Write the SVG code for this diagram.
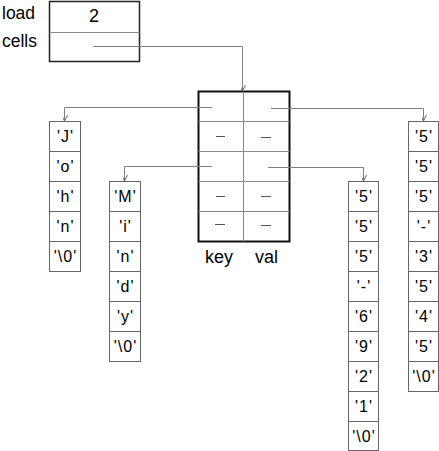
<svg xmlns="http://www.w3.org/2000/svg" width="439" height="451" viewBox="0 0 439 451">
<style>
text{font-family:"Liberation Sans",Arial,sans-serif;fill:#000}
.lbl{font-size:17.5px}
.c{font-size:16px;text-anchor:middle;letter-spacing:1px}
.cell{fill:#fff;stroke:#666;stroke-width:1}
.wire{fill:none;stroke:#808080;stroke-width:1}
.nul{stroke:#555;stroke-width:1}
.grid{stroke:#888;stroke-width:1}
</style>
<defs>
<marker id="arr" viewBox="-6 -10 12 12" markerWidth="12" markerHeight="12" refX="0" refY="0" orient="auto" markerUnits="userSpaceOnUse">
<path d="M-4,-8 L0,0 L4,-8" transform="rotate(-90)" fill="none" stroke="#666" stroke-width="1"/>
</marker>
</defs>
<g id="root">
<text class="lbl" x="2" y="19">load</text>
<text class="lbl" x="2" y="47">cells</text>
<rect x="49.5" y="1.5" width="90" height="60" fill="#fff" stroke="#222" stroke-width="1.5"/>
<line x1="49.5" y1="32.5" x2="139.5" y2="32.5" class="grid"/>
<text x="94" y="22" style="font-size:18px;text-anchor:middle">2</text>
</g>
<g id="table">
<rect x="198.5" y="91.5" width="91" height="150" fill="#fff" stroke="#111" stroke-width="2"/>
<line x1="198.5" y1="121.5" x2="289.5" y2="121.5" class="grid"/>
<line x1="198.5" y1="151.5" x2="289.5" y2="151.5" class="grid"/>
<line x1="198.5" y1="181.5" x2="289.5" y2="181.5" class="grid"/>
<line x1="198.5" y1="211.5" x2="289.5" y2="211.5" class="grid"/>
<line x1="243.5" y1="91.5" x2="243.5" y2="241.5" class="grid"/>
<line x1="216" y1="136.5" x2="225" y2="136.5" class="nul"/>
<line x1="261" y1="137.5" x2="271" y2="137.5" class="nul"/>
<line x1="216" y1="196.5" x2="225" y2="196.5" class="nul"/>
<line x1="261" y1="196.5" x2="271" y2="196.5" class="nul"/>
<line x1="215" y1="224.5" x2="225" y2="224.5" class="nul"/>
<line x1="261" y1="225.5" x2="271" y2="225.5" class="nul"/>
<text class="lbl" x="205" y="263" style="font-size:18px">key</text>
<text class="lbl" x="255" y="263" style="font-size:18px">val</text>
</g>
<g id="connectors">
<path class="wire" d="M93,46.5 H242.5 V91" marker-end="url(#arr)"/>
<path class="wire" d="M212,107.5 H64.5 V121" marker-end="url(#arr)"/>
<path class="wire" d="M271,108.5 H423.5 V121" marker-end="url(#arr)"/>
<path class="wire" d="M212,166.5 H124.5 V181" marker-end="url(#arr)"/>
<path class="wire" d="M268,167.5 H363.5 V181" marker-end="url(#arr)"/>
</g>
<g id="col-john">
<rect class="cell" x="49.5" y="121.5" width="31" height="30"/><text class="c" x="65.5" y="142">'J'</text>
<rect class="cell" x="49.5" y="151.5" width="31" height="30"/><text class="c" x="65.5" y="172">'o'</text>
<rect class="cell" x="49.5" y="181.5" width="31" height="30"/><text class="c" x="65.5" y="202">'h'</text>
<rect class="cell" x="49.5" y="211.5" width="31" height="30"/><text class="c" x="65.5" y="232">'n'</text>
<rect class="cell" x="49.5" y="241.5" width="31" height="30"/><text class="c" x="65.5" y="262">'\0'</text>
</g>
<g id="col-mindy">
<rect class="cell" x="109.5" y="181.5" width="31" height="30"/><text class="c" x="125.5" y="202">'M'</text>
<rect class="cell" x="109.5" y="211.5" width="31" height="30"/><text class="c" x="125.5" y="232">'i'</text>
<rect class="cell" x="109.5" y="241.5" width="31" height="30"/><text class="c" x="125.5" y="262">'n'</text>
<rect class="cell" x="109.5" y="271.5" width="31" height="30"/><text class="c" x="125.5" y="292">'d'</text>
<rect class="cell" x="109.5" y="301.5" width="31" height="30"/><text class="c" x="125.5" y="322">'y'</text>
<rect class="cell" x="109.5" y="331.5" width="31" height="30"/><text class="c" x="125.5" y="352">'\0'</text>
</g>
<g id="col-5556921">
<rect class="cell" x="348.5" y="181.5" width="30" height="30"/><text class="c" x="364" y="202">'5'</text>
<rect class="cell" x="348.5" y="211.5" width="30" height="30"/><text class="c" x="364" y="232">'5'</text>
<rect class="cell" x="348.5" y="241.5" width="30" height="30"/><text class="c" x="364" y="262">'5'</text>
<rect class="cell" x="348.5" y="271.5" width="30" height="30"/><text class="c" x="364" y="292">'-'</text>
<rect class="cell" x="348.5" y="301.5" width="30" height="30"/><text class="c" x="364" y="322">'6'</text>
<rect class="cell" x="348.5" y="331.5" width="30" height="30"/><text class="c" x="364" y="352">'9'</text>
<rect class="cell" x="348.5" y="361.5" width="30" height="30"/><text class="c" x="364" y="382">'2'</text>
<rect class="cell" x="348.5" y="391.5" width="30" height="30"/><text class="c" x="364" y="412">'1'</text>
<rect class="cell" x="348.5" y="421.5" width="30" height="29"/><text class="c" x="364" y="442">'\0'</text>
</g>
<g id="col-5553545">
<rect class="cell" x="408.5" y="121.5" width="30" height="30"/><text class="c" x="424" y="142">'5'</text>
<rect class="cell" x="408.5" y="151.5" width="30" height="30"/><text class="c" x="424" y="172">'5'</text>
<rect class="cell" x="408.5" y="181.5" width="30" height="30"/><text class="c" x="424" y="202">'5'</text>
<rect class="cell" x="408.5" y="211.5" width="30" height="30"/><text class="c" x="424" y="232">'-'</text>
<rect class="cell" x="408.5" y="241.5" width="30" height="30"/><text class="c" x="424" y="262">'3'</text>
<rect class="cell" x="408.5" y="271.5" width="30" height="30"/><text class="c" x="424" y="292">'5'</text>
<rect class="cell" x="408.5" y="301.5" width="30" height="30"/><text class="c" x="424" y="322">'4'</text>
<rect class="cell" x="408.5" y="331.5" width="30" height="30"/><text class="c" x="424" y="352">'5'</text>
<rect class="cell" x="408.5" y="361.5" width="30" height="30"/><text class="c" x="424" y="382">'\0'</text>
</g>
</svg>
